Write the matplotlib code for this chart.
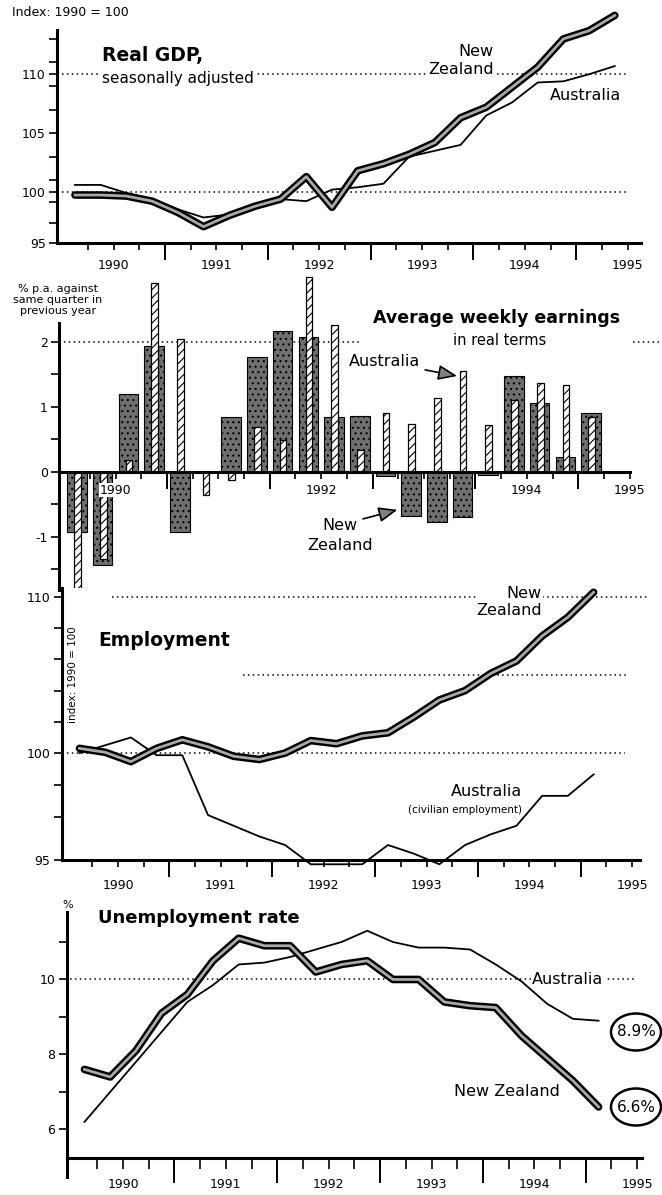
import numpy as np
import matplotlib.pyplot as plt
from matplotlib.patches import Ellipse

plt.rcParams['font.family'] = ['DejaVu Sans']
plt.rcParams['axes.unicode_minus'] = False
plt.rcParams['hatch.linewidth'] = 0.8

quarters = ["1989Q3", "1989Q4", "1990Q1", "1990Q2", "1990Q3", "1990Q4",
            "1991Q1", "1991Q2", "1991Q3", "1991Q4", "1992Q1", "1992Q2",
            "1992Q3", "1992Q4", "1993Q1", "1993Q2", "1993Q3", "1993Q4",
            "1994Q1", "1994Q2", "1994Q3", "1994Q4"]

# Real GDP, index 1990 = 100 (22 quarters)
gdp_nz = [99.7, 99.7, 99.6, 99.1, 98.0, 96.6, 97.7, 98.6, 99.3, 101.3, 98.5,
          101.8, 102.4, 103.2, 104.2, 106.3, 107.2, 108.9, 110.6, 113.0,
          113.7, 115.0]
gdp_aus = [100.6, 100.6, 99.9, 99.3, 98.3, 97.5, 97.8, 98.6, 99.3, 99.1,
           100.2, 100.4, 100.7, 103.0, 103.5, 104.0, 106.5, 107.6, 109.3,
           109.4, 110.0, 110.7]

# Average weekly earnings in real terms, % p.a. (21 quarters)
awe_nz = [-0.92, -1.44, 1.19, 1.94, -0.92, 0.0, 0.84, 1.76, 2.17, 2.07, 0.85,
          0.86, -0.07, -0.68, -0.78, -0.69, -0.05, 1.47, 1.06, 0.23, 0.91]
awe_aus = [-2.0, -1.35, 0.18, 2.9, 2.04, -0.36, -0.13, 0.69, 0.49, 3.0, 2.26,
           0.33, 0.9, 0.73, 1.13, 1.55, 0.72, 1.1, 1.36, 1.33, 0.85]

# Employment, index 1990 = 100 (21 quarters)
emp_nz = [100.3, 100.05, 99.6, 100.3, 100.85, 100.4, 99.85, 99.7, 100.0,
          100.8, 100.6, 101.1, 101.3, 102.3, 103.4, 104.0, 105.1, 105.9,
          107.5, 108.7, 110.3]
emp_aus = [100.0, 100.5, 101.0, 99.9, 99.9, 97.1, 96.6, 96.1, 95.7, 94.8,
           94.8, 94.8, 95.7, 95.3, 94.8, 95.7, 96.2, 96.6, 98.0, 98.0, 99.0]

# Unemployment rate, % (21 quarters)
unemp_nz = [7.6, 7.4, 8.1, 9.1, 9.6, 10.5, 11.1, 10.9, 10.9, 10.2, 10.4, 10.5,
            10.0, 10.0, 9.4, 9.3, 9.25, 8.5, 7.9, 7.3, 6.6]
unemp_aus = [6.2, 7.0, 7.8, 8.6, 9.4, 9.85, 10.4, 10.45, 10.6, 10.8, 11.0,
             11.3, 11.0, 10.85, 10.85, 10.8, 10.4, 9.95, 9.35, 8.95, 8.9]

year_labels = [1990, 1991, 1992, 1993, 1994, 1995]
awe_year_labels = [1990, 1992, 1994, 1995]


def quarter_x(labels):
    # Mid-point of each quarter on a decimal-year axis.
    return np.array([int(q[:4]) + 0.25 * (int(q[-1]) - 1) + 0.125
                     for q in labels])


x_gdp = quarter_x(quarters)
x_q = quarter_x(quarters[:21])

# Figure layout (pixel based).

W, H = 662, 1195
X_MIN, X_MAX = 1989.45, 1995.13

fig = plt.figure(figsize=(W / 100, H / 100), dpi=100)


def px_axes(left, top, right, bottom):
    return fig.add_axes([left / W, 1 - bottom / H,
                         (right - left) / W, (bottom - top) / H])


def fig_xy(px, py):
    return px / W, 1 - py / H


def fig_text(px, py, s, **kw):
    x, y = fig_xy(px, py)
    return fig.text(x, y, s, **kw)


def broken_scale(k):
    # The original y axes are stretched differently below and above 100.
    def fwd(v):
        v = np.asarray(v, dtype=float)
        return np.where(v >= 100, v, 100 - (100 - v) * k)

    def inv(u):
        u = np.asarray(u, dtype=float)
        return np.where(u >= 100, u, 100 - (100 - u) / k)

    return fwd, inv


def style_axes(ax, labels, sec_loc, short, long_, pad):
    for s in ['top', 'right']:
        ax.spines[s].set_visible(False)
    for s in ['left', 'bottom']:
        ax.spines[s].set_linewidth(2.2)
    ax.set_xlim(X_MIN, X_MAX)
    ax.set_xticks(labels, [str(y) for y in labels])
    ax.set_xticks(np.arange(1989.75, 1995.01, 0.25), minor=True)
    ax.tick_params(axis='x', which='both', direction='out', length=short,
                   width=1.2, pad=pad, labelsize=9)
    ax.tick_params(axis='y', which='both', direction='out', length=6,
                   width=1.2, pad=2, labelsize=9)
    sec = ax.secondary_xaxis(sec_loc)
    sec.set_xticks(np.arange(1990.5, 1995.0, 1.0))
    sec.tick_params(axis='x', length=long_, width=1.4, labelbottom=False)
    for sp in sec.spines.values():
        sp.set_visible(False)


def dotted(ax, y, x0, x1):
    ax.plot([x0, x1], [y, y], ls=(0, (1, 2.2)), lw=1.1, color='black',
            zorder=1, clip_on=False)


def nz_line(ax, x, y):
    ax.plot(x, y, color='black', lw=5.5, solid_joinstyle='round',
            solid_capstyle='round', zorder=4, clip_on=False)
    ax.plot(x, y, color='#a9a9a9', lw=2.0, solid_joinstyle='round',
            zorder=5, clip_on=False)


def aus_line(ax, x, y):
    ax.plot(x, y, color='black', lw=1.3, zorder=3, clip_on=False)


def circled(px, py, s):
    fig_text(px, py, s, fontsize=11, ha='center', va='center', zorder=6)
    fig.patches.append(Ellipse(fig_xy(px, py), 50 / W, 37 / H,
                               transform=fig.transFigure, fc='white',
                               ec='black', lw=1.8, zorder=5))


# Panel 1: real GDP.

ax1 = px_axes(57, 30, 641, 243)
ax1.set_yscale('function', functions=broken_scale(0.867))
ax1.set_ylim(95, 113.76)
ax1.set_yticks([95, 100, 105, 110])
ax1.set_yticks([97, 99, 101, 103, 107, 109, 111, 113], minor=True)
style_axes(ax1, year_labels, 'bottom', 5, 12, 6.5)

dotted(ax1, 110, 1989.5, 1994.98)
dotted(ax1, 100, 1989.5, 1994.98)
aus_line(ax1, x_gdp, gdp_aus)
nz_line(ax1, x_gdp, gdp_nz)

fig_text(12, 13, "Index: 1990 = 100", fontsize=9, ha='left', va='center')
fig_text(102, 56, "Real GDP,", fontsize=13.5, fontweight='bold',
         ha='left', va='center')
fig_text(102, 79, "seasonally adjusted", fontsize=11, ha='left', va='center',
         bbox=dict(fc='white', ec='none', pad=1))
fig_text(494, 60, "New\nZealand", fontsize=11.5, ha='right', va='center',
         multialignment='right', linespacing=1.25,
         bbox=dict(fc='white', ec='none', pad=1))
fig_text(585, 95, "Australia", fontsize=11.5, ha='center', va='center')

# Panel 2: average weekly earnings.

ax2 = px_axes(59, 323, 643, 590)
ax2.set_axisbelow(False)
ax2.set_ylim(-1.82, 2.29)
ax2.spines['bottom'].set_position(('data', 0))
ax2.set_yticks([-1, 0, 1, 2])
ax2.set_yticks([-1.5, -0.5, 0.5, 1.5], minor=True)
style_axes(ax2, awe_year_labels, 1.82 / 4.11, 5, 12, 3.5)
ax2.spines['bottom'].set_bounds(X_MIN, 1995.0)
for lbl in ax2.get_xticklabels():
    lbl.set_bbox(dict(fc='white', ec='none', pad=0.5))

ax2.bar(x_q, awe_nz, width=0.19, color='#6f6f6f', edgecolor='black',
        hatch='...', lw=0.8, zorder=2.1, clip_on=False)
ax2.bar(x_q + 0.005, awe_aus, width=0.065, color='white', edgecolor='black',
        hatch='////', lw=0.9, zorder=2.2, clip_on=False)

dotted(ax2, 2, 1989.45, 1992.4)
dotted(ax2, 2, 1995.03, 1995.3)

fig_text(58, 300, "% p.a. against\nsame quarter in\nprevious year",
         fontsize=8, ha='center', va='center', linespacing=1.1)
fig_text(497, 318, "Average weekly earnings", fontsize=12.5,
         fontweight='bold', ha='center', va='center')
fig_text(500, 340, "in real terms", fontsize=10.5, ha='center', va='center')

arrow = dict(arrowstyle='-|>,head_length=1.0,head_width=0.4',
             color='black', fc='#808080', lw=1.2, shrinkA=2, shrinkB=1)
ax2.annotate("Australia", xy=(x_q[15] - 0.04, awe_aus[15] - 0.08),
             xytext=fig_xy(384, 362), textcoords='figure fraction',
             fontsize=11.5, ha='center', va='center', arrowprops=arrow)
ax2.annotate("New", xy=(x_q[13] - 0.12, awe_nz[13] + 0.1),
             xytext=fig_xy(340, 525), textcoords='figure fraction',
             fontsize=11.5, ha='center', va='center', arrowprops=arrow)
fig_text(340, 545, "Zealand", fontsize=11.5, ha='center', va='center')

# Panel 3: employment.

ax3 = px_axes(61.5, 587.6, 645.5, 860)
ax3.set_yscale('function', functions=broken_scale(1.37))
ax3.set_ylim(95, 110.6)
ax3.set_yticks([95, 100, 110])
ax3.set_yticks([97, 98.5, 102, 104, 106, 108], minor=True)
style_axes(ax3, year_labels, 'bottom', 5, 12, 8.5)
ax3.spines['bottom'].set_bounds(X_MIN, 1995.08)

dotted(ax3, 110, 1989.94, 1995.14)
dotted(ax3, 105, 1991.22, 1994.97)
dotted(ax3, 100, 1989.45, 1994.93)
aus_line(ax3, x_q, emp_aus)
nz_line(ax3, x_q, emp_nz)

fig_text(98, 641, "Employment", fontsize=13.5, fontweight='bold',
         ha='left', va='center')
fig_text(73, 675, "index: 1990 = 100", fontsize=7.5, rotation=90,
         ha='center', va='center')
fig_text(542, 602, "New\nZealand", fontsize=11.5, ha='right', va='center',
         multialignment='right', linespacing=1.1,
         bbox=dict(fc='white', ec='none', pad=0.5))
fig_text(522, 792, "Australia", fontsize=11.5, ha='right', va='center')
fig_text(522, 810, "(civilian employment)", fontsize=7.5, ha='right',
         va='center')

# Panel 4: unemployment rate.

ax4 = px_axes(66.5, 912, 650.5, 1177)
ax4.set_ylim(4.73, 11.8)
ax4.spines['bottom'].set_position(('data', 5.25))
ax4.set_yticks([6, 8, 10])
ax4.set_yticks([7, 9, 11], minor=True)
style_axes(ax4, year_labels, (5.25 - 4.73) / (11.8 - 4.73), 8, 18, 7)
ax4.spines['bottom'].set_bounds(X_MIN, 1995.05)

dotted(ax4, 10, 1989.48, 1994.98)
aus_line(ax4, x_q, unemp_aus)
nz_line(ax4, x_q, unemp_nz)

fig_text(68, 905, "%", fontsize=8, ha='center', va='center')
fig_text(98, 918, "Unemployment rate", fontsize=13, fontweight='bold',
         ha='left', va='center')
fig_text(568, 980, "Australia", fontsize=11.5, ha='center', va='center',
         bbox=dict(fc='white', ec='none', pad=1))
fig_text(507, 1092, "New Zealand", fontsize=11.5, ha='center', va='center')
circled(636, 1032, "{:.1f}%".format(unemp_aus[-1]))
circled(636, 1107, "{:.1f}%".format(unemp_nz[-1]))

fig.savefig("out.png", dpi=100)
plt.close(fig)
